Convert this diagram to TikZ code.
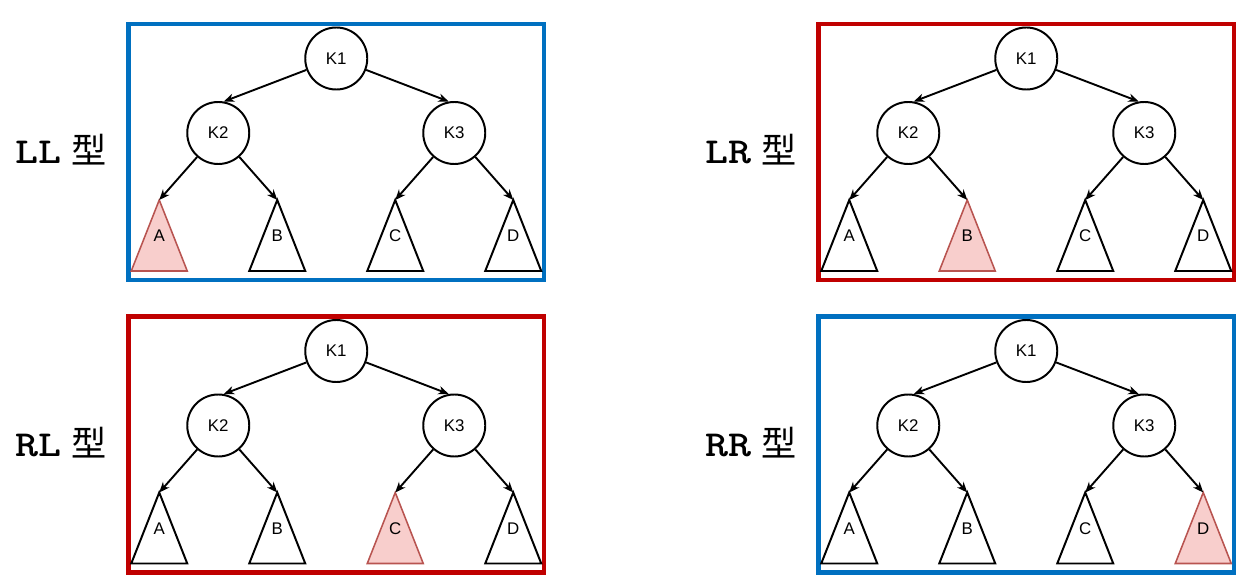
\documentclass[tikz,border=0pt]{standalone}
\usepackage{fontspec}
\setsansfont{Liberation Sans}
\newfontfamily\cjk{Noto Sans CJK SC}
\usepackage{graphicx}
\usepackage{tikz}
\usetikzlibrary{arrows.meta}

\begin{document}
\begin{tikzpicture}[
      x=0.025cm, y=-0.025cm,
      font=\sffamily\fontsize{12}{14}\selectfont,
      key/.style={circle, draw, line width=1.4pt, minimum size=1.55cm, inner sep=0pt},
      leaf/.style={inner sep=0pt},
      sub/.style={draw, line width=1.4pt, line join=miter},
      hotsub/.style={draw=hotline, fill=hotfill, line width=1.1pt, line join=miter},
      edge/.style={-{Stealth[length=2.6mm, width=2.1mm, inset=0.8mm]}, line width=1.35pt},
      frame/.style={line width=3.5pt},
      tag/.style={anchor=base west, inner sep=0pt, font=\ttfamily\bfseries\fontsize{26}{28}\selectfont},
    ]
    \definecolor{boxblue}{RGB}{0,112,192}
    \definecolor{boxred}{RGB}{192,0,0}
    \definecolor{hotfill}{RGB}{248,206,204}
    \definecolor{hotline}{RGB}{184,84,80}

    \useasboundingbox (0,0) rectangle (1258,584);

    % one panel per rotation case, the inserted subtree is filled
    \foreach \px/\py/\bc/\lab/\hot/\id in {128.5/24/boxblue/LL/A/ll,
        818.5/24/boxred/LR/B/lr,
        128.5/316.5/boxred/RL/C/rl,
        818.5/316.5/boxblue/RR/D/rr}{
      \begin{scope}[shift={(\px,\py)}]
        \draw[frame, draw=\bc] (0,0) rectangle (415.5,256);
        \node[tag] (\id-tag) at (-113,140) {\scalebox{1.2}[1]{\lab}\hspace{7pt}{\cjk\mdseries\fontsize{25}{27}\selectfont 型}};

        \node[key] (\id-k1) at (207.75,34.5) {K1};
        \node[key] (\id-k2) at (89.75,109) {K2};
        \node[key] (\id-k3) at (325.75,109) {K3};
        \draw[edge] (\id-k1) -- (\id-k2.80);
        \draw[edge] (\id-k1) -- (\id-k3.100);

        \foreach \lf/\tx/\up in {A/30.75/k2,B/148.75/k2,C/266.75/k3,D/384.75/k3}{
          \coordinate (\id-\lf-top) at (\tx,176);
          \ifx\lf\hot \def\tristyle{hotsub}\else \def\tristyle{sub}\fi
          \draw[\tristyle] (\id-\lf-top) -- ++(28,71) -- ++(-56,0) -- cycle;
          \node[leaf] (\id-\lf) at (\tx,212) {\lf};
          \draw[edge] (\id-\up) -- (\id-\lf-top);
        }
      \end{scope}
    }
  \end{tikzpicture}
\end{document}
